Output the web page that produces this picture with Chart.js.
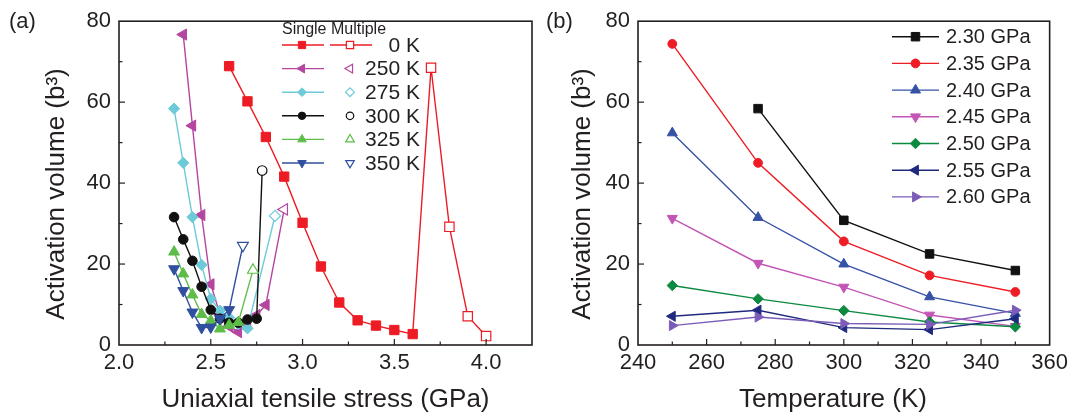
<!DOCTYPE html>
<html><head><meta charset="utf-8">
<script src="https://cdn.jsdelivr.net/npm/chart.js@4.4.0/dist/chart.umd.min.js"></script>
<style>
html,body{margin:0;padding:0;background:#fff;width:1073px;height:418px;overflow:hidden}
#wa{position:absolute;left:0;top:0;width:540px;height:418px}
#wb{position:absolute;left:540px;top:0;width:533px;height:418px}
.pl{position:absolute;font-family:"Liberation Sans",Arial,sans-serif;font-size:22px;line-height:22px;color:#231f20}
</style></head><body>
<div id="wa"><canvas id="ca" width="540" height="418"></canvas></div>
<div id="wb"><canvas id="cb" width="533" height="418"></canvas></div>
<div class="pl" style="left:9px;top:10px">(a)</div>
<div class="pl" style="left:546px;top:10px">(b)</div>
<script>
// ---------- Panel (a) data: activation volume vs. uniaxial tensile stress ----------
const stress0KSingle   = [2.6, 2.7, 2.8, 2.9, 3.0, 3.1, 3.2, 3.3, 3.4, 3.5, 3.6];
const vol0KSingle      = [68.9, 60.2, 51.4, 41.6, 30.2, 19.4, 10.5, 6.1, 4.8, 3.7, 2.7];
const stress0KMulti    = [3.7, 3.8, 3.9, 4.0];
const vol0KMulti       = [68.5, 29.2, 7.1, 2.2];

const stress250KSingle = [2.35, 2.4, 2.45, 2.5, 2.55, 2.6, 2.65, 2.7, 2.75, 2.8];
const vol250KSingle    = [76.7, 54.2, 32.1, 15.0, 7.6, 4.6, 3.2, 5.2, 7.4, 9.9];
const stress250KMulti  = [2.9];
const vol250KMulti     = [33.5];

const stress275KSingle = [2.3, 2.35, 2.4, 2.45, 2.5, 2.55, 2.6, 2.65, 2.7];
const vol275KSingle    = [58.4, 45.0, 31.6, 19.8, 11.4, 8.5, 6.8, 5.2, 4.1];
const stress275KMulti  = [2.85];
const vol275KMulti     = [31.9];

const stress300KSingle = [2.3, 2.35, 2.4, 2.45, 2.5, 2.55, 2.6, 2.65, 2.7, 2.75];
const vol300KSingle    = [31.6, 26.1, 20.8, 14.4, 8.7, 6.5, 5.5, 5.5, 6.3, 6.5];
const stress300KMulti  = [2.78];
const vol300KMulti     = [43.1];

const stress325KSingle = [2.3, 2.35, 2.4, 2.45, 2.5, 2.55, 2.6, 2.65];
const vol325KSingle    = [23.0, 17.6, 12.4, 7.6, 6.0, 4.0, 4.9, 5.6];
const stress325KMulti  = [2.73];
const vol325KMulti     = [18.5];

const stress350KSingle = [2.3, 2.35, 2.4, 2.45, 2.5, 2.55, 2.6];
const vol350KSingle    = [18.8, 13.4, 8.1, 4.3, 4.4, 6.5, 8.7];
const stress350KMulti  = [2.675];
const vol350KMulti     = [24.6];

const tempLabelsA = ['0 K', '250 K', '275 K', '300 K', '325 K', '350 K'];
const legendHeaderA = 'Single Multiple';

// ---------- Panel (b) data: activation volume vs. temperature ----------
const temperatures = [250, 275, 300, 325, 350];
const vol230GPa = [null, 58.4, 30.8, 22.5, 18.4];
const vol235GPa = [74.4, 45.0, 25.6, 17.2, 13.1];
const vol240GPa = [52.4, 31.5, 20.0, 11.9, 7.8];
const vol245GPa = [31.3, 20.2, 14.3, 7.4, 4.6];
const vol250GPa = [14.7, 11.4, 8.5, 5.7, 4.5];
const vol255GPa = [7.1, 8.6, 4.3, 3.8, 6.5];
const vol260GPa = [4.8, 6.9, 5.3, 5.1, 8.6];
const stressLabelsB = ['2.30 GPa', '2.35 GPa', '2.40 GPa', '2.45 GPa', '2.50 GPa', '2.55 GPa', '2.60 GPa'];

// tick label lists
const xTickLabelsA = ['2.0', '2.5', '3.0', '3.5', '4.0'];
const yTickLabels = ['0', '20', '40', '60', '80'];
const xTickLabelsB = ['240', '260', '280', '300', '320', '340', '360'];

// ---------- styling ----------
const FONT = '"Liberation Sans", Arial, sans-serif';
const TXT = '#231f20';

function pts(xs, ys) {
  return xs.map((x, i) => ({x: x, y: ys[i]})).filter(p => p.y !== null && p.y !== undefined);
}

function series(xs, ys, st, filled, lead) {
  let data = pts(xs, ys);
  let radii = data.map(() => st.r);
  if (lead) { data = [lead].concat(data); radii = [0].concat(radii); }
  return {
    data: data, showLine: true, tension: 0,
    borderColor: st.color, borderWidth: 1.4,
    pointStyle: st.style, pointRotation: st.rot,
    pointRadius: radii, pointHoverRadius: radii,
    pointBackgroundColor: filled ? st.color : '#ffffff',
    pointBorderColor: st.color, pointBorderWidth: filled ? 1 : 1.2
  };
}

// inward ticks + box frame, using the library's scales
const frameTicks = {
  id: 'frameTicks',
  afterDatasetsDraw(chart) {
    const ctx = chart.ctx, a = chart.chartArea, sx = chart.scales.x, sy = chart.scales.y;
    ctx.save();
    ctx.strokeStyle = '#231f20';
    ctx.lineWidth = 1.2;
    const xt = sx.ticks.map(t => t.value), yt = sy.ticks.map(t => t.value);
    const tick = (x1, y1, x2, y2) => { ctx.beginPath(); ctx.moveTo(x1, y1); ctx.lineTo(x2, y2); ctx.stroke(); };
    xt.forEach((v, i) => {
      const px = sx.getPixelForValue(v);
      if (px > a.left + 1 && px < a.right - 1) tick(px, a.bottom, px, a.bottom - 6);
      if (i < xt.length - 1) {
        const m = sx.getPixelForValue((v + xt[i + 1]) / 2);
        tick(m, a.bottom, m, a.bottom - 3.5);
      }
    });
    const last = xt[xt.length - 1], step = xt.length > 1 ? xt[1] - xt[0] : 0;
    const mEnd = sx.getPixelForValue(last + step / 2);
    if (mEnd < a.right - 1) tick(mEnd, a.bottom, mEnd, a.bottom - 3.5);
    yt.forEach((v, i) => {
      const py = sy.getPixelForValue(v);
      if (py < a.bottom - 1 && py > a.top + 1) tick(a.left, py, a.left + 6, py);
      if (i < yt.length - 1) {
        const m = sy.getPixelForValue((v + yt[i + 1]) / 2);
        tick(a.left, m, a.left + 3.5, m);
      }
    });
    ctx.lineWidth = 1.6;
    ctx.strokeRect(a.left, a.top, a.right - a.left, a.bottom - a.top);
    ctx.restore();
  }
};

function mark(ctx, st, x, y, filled, scale) {
  ctx.save();
  ctx.fillStyle = filled ? st.color : '#ffffff';
  ctx.strokeStyle = st.color;
  ctx.lineWidth = filled ? 1 : 1.2;
  Chart.helpers.drawPoint(ctx, {pointStyle: st.style, rotation: st.rot, radius: st.r * scale, borderWidth: ctx.lineWidth}, x, y);
  ctx.restore();
}

const customLegend = {
  id: 'customLegend',
  afterDraw(chart, args, o) {
    if (!o || !o.items) return;
    const ctx = chart.ctx;
    ctx.save();
    ctx.fillStyle = TXT;
    ctx.textBaseline = 'middle';
    if (o.header) {
      ctx.font = o.headerFont; ctx.textAlign = 'left';
      ctx.fillText(o.header, o.headerX, o.headerY);
    }
    o.items.forEach((it, i) => {
      const y = o.y0 + i * o.dy;
      ctx.strokeStyle = it.st.color; ctx.lineWidth = 1.4;
      ctx.beginPath(); ctx.moveTo(o.l1[0], y); ctx.lineTo(o.l1[1], y); ctx.stroke();
      mark(ctx, it.st, o.m1, y, true, o.ms);
      if (o.m2) {
        if (it.multiLine) {
          ctx.strokeStyle = it.st.color; ctx.lineWidth = 1.4;
          ctx.beginPath(); ctx.moveTo(o.l2[0], y); ctx.lineTo(o.l2[1], y); ctx.stroke();
        }
        mark(ctx, it.st, o.m2, y, false, o.ms);
      }
      ctx.fillStyle = TXT; ctx.font = o.font; ctx.textAlign = o.align;
      ctx.fillText(it.label, o.tx, y + 1);
    });
    ctx.restore();
  }
};

// trailing no-break spaces nudge the centred axis titles like the original layout
const NB = '\u00A0';
function axes(xmin, xmax, xstep, xLabels, xTitle, yWidth, xHeight) {
  return {
    x: {
      type: 'linear', min: xmin, max: xmax,
      grid: {display: false, drawTicks: false}, border: {display: false},
      ticks: {stepSize: xstep, includeBounds: false, autoSkip: false, maxRotation: 0, padding: 5,
        color: TXT, font: {family: FONT, size: 22},
        callback: (v, i) => xLabels[i] !== undefined ? xLabels[i] : ''},
      title: {display: true, text: xTitle, color: TXT, font: {family: FONT, size: 26}, padding: 0},
      afterFit(s) { s.height = xHeight; }
    },
    y: {
      type: 'linear', min: 0, max: 80,
      grid: {display: false, drawTicks: false}, border: {display: false},
      ticks: {stepSize: 20, includeBounds: false, padding: 8,
        color: TXT, font: {family: FONT, size: 22},
        callback: (v, i) => yTickLabels[i]},
      title: {display: true, text: 'Activation volume (b\u00B3)' + NB + NB + NB, color: TXT, font: {family: FONT, size: 26}, padding: 0},
      afterFit(s) { s.width = yWidth; }
    }
  };
}

// ---------- panel (a) ----------
const stylesA = [
  {color: '#ed1c24', style: 'rect', rot: 0, r: 6.6},
  {color: '#b4469f', style: 'triangle', rot: -90, r: 6.5},
  {color: '#6ccad9', style: 'rectRot', rot: 0, r: 5.6},
  {color: '#111111', style: 'circle', rot: 0, r: 4.8},
  {color: '#5dbd48', style: 'triangle', rot: 0, r: 6.3},
  {color: '#2f4f9f', style: 'triangle', rot: 180, r: 6.3}
];
const groupsA = [
  [stress0KSingle, vol0KSingle, stress0KMulti, vol0KMulti],
  [stress250KSingle, vol250KSingle, stress250KMulti, vol250KMulti],
  [stress275KSingle, vol275KSingle, stress275KMulti, vol275KMulti],
  [stress300KSingle, vol300KSingle, stress300KMulti, vol300KMulti],
  [stress325KSingle, vol325KSingle, stress325KMulti, vol325KMulti],
  [stress350KSingle, vol350KSingle, stress350KMulti, vol350KMulti]
];
const dsA = [];
groupsA.forEach((g, i) => {
  const st = stylesA[i];
  const s = series(g[0], g[1], st, true);
  const lastPt = s.data[s.data.length - 1];
  const m = series(g[2], g[3], st, false, {x: lastPt.x, y: lastPt.y});
  s.order = 100 - 2 * i; m.order = 99 - 2 * i;
  dsA.push(s, m);
});

new Chart(document.getElementById('ca'), {
  type: 'scatter',
  data: {datasets: dsA},
  options: {
    responsive: false, animation: false, devicePixelRatio: 1,
    layout: {padding: {left: 41, right: 8, top: 19, bottom: 3}},
    plugins: {
      legend: {display: false}, tooltip: {enabled: false},
      customLegend: {
        header: legendHeaderA, headerFont: '16px ' + FONT, headerX: 282, headerY: 30,
        items: tempLabelsA.map((l, i) => ({label: l, st: stylesA[i], multiLine: i === 0})),
        y0: 45, dy: 23.6, l1: [282, 324], m1: 302, l2: [330, 372], m2: 350, ms: 0.78,
        tx: 420, align: 'right', font: '21px ' + FONT
      }
    },
    scales: axes(2, 4.25, 0.5, xTickLabelsA, 'Uniaxial tensile stress (GPa)', 78, 70)
  },
  plugins: [frameTicks, customLegend]
});

// ---------- panel (b) ----------
const stylesB = [
  {color: '#111111', style: 'rect', rot: 0, r: 6},
  {color: '#ee1c24', style: 'circle', rot: 0, r: 4.4},
  {color: '#3552a5', style: 'triangle', rot: 0, r: 5.8},
  {color: '#c255b5', style: 'triangle', rot: 180, r: 5.8},
  {color: '#0c8a40', style: 'rectRot', rot: 0, r: 5.2},
  {color: '#1f2a7f', style: 'triangle', rot: -90, r: 5.8},
  {color: '#7c5cb8', style: 'triangle', rot: 90, r: 5.8}
];
const valuesB = [vol230GPa, vol235GPa, vol240GPa, vol245GPa, vol250GPa, vol255GPa, vol260GPa];
const dsB = valuesB.map((v, i) => { const d = series(temperatures, v, stylesB[i], true); d.order = 100 - i; return d; });

const scalesB = axes(240, 360, 20, xTickLabelsB, 'Temperature (K)' + NB + NB + NB, 71, 70);
new Chart(document.getElementById('cb'), {
  type: 'scatter',
  data: {datasets: dsB},
  options: {
    responsive: false, animation: false, devicePixelRatio: 1,
    layout: {padding: {left: 27, right: 23, top: 19, bottom: 3}},
    plugins: {
      legend: {display: false}, tooltip: {enabled: false},
      customLegend: {
        items: stressLabelsB.map((l, i) => ({label: l, st: stylesB[i]})),
        y0: 36.7, dy: 26.7, l1: [352, 399], m1: 375.5, ms: 1,
        tx: 406, align: 'left', font: '20px ' + FONT
      }
    },
    scales: scalesB
  },
  plugins: [frameTicks, customLegend]
});
</script>
</body></html>
